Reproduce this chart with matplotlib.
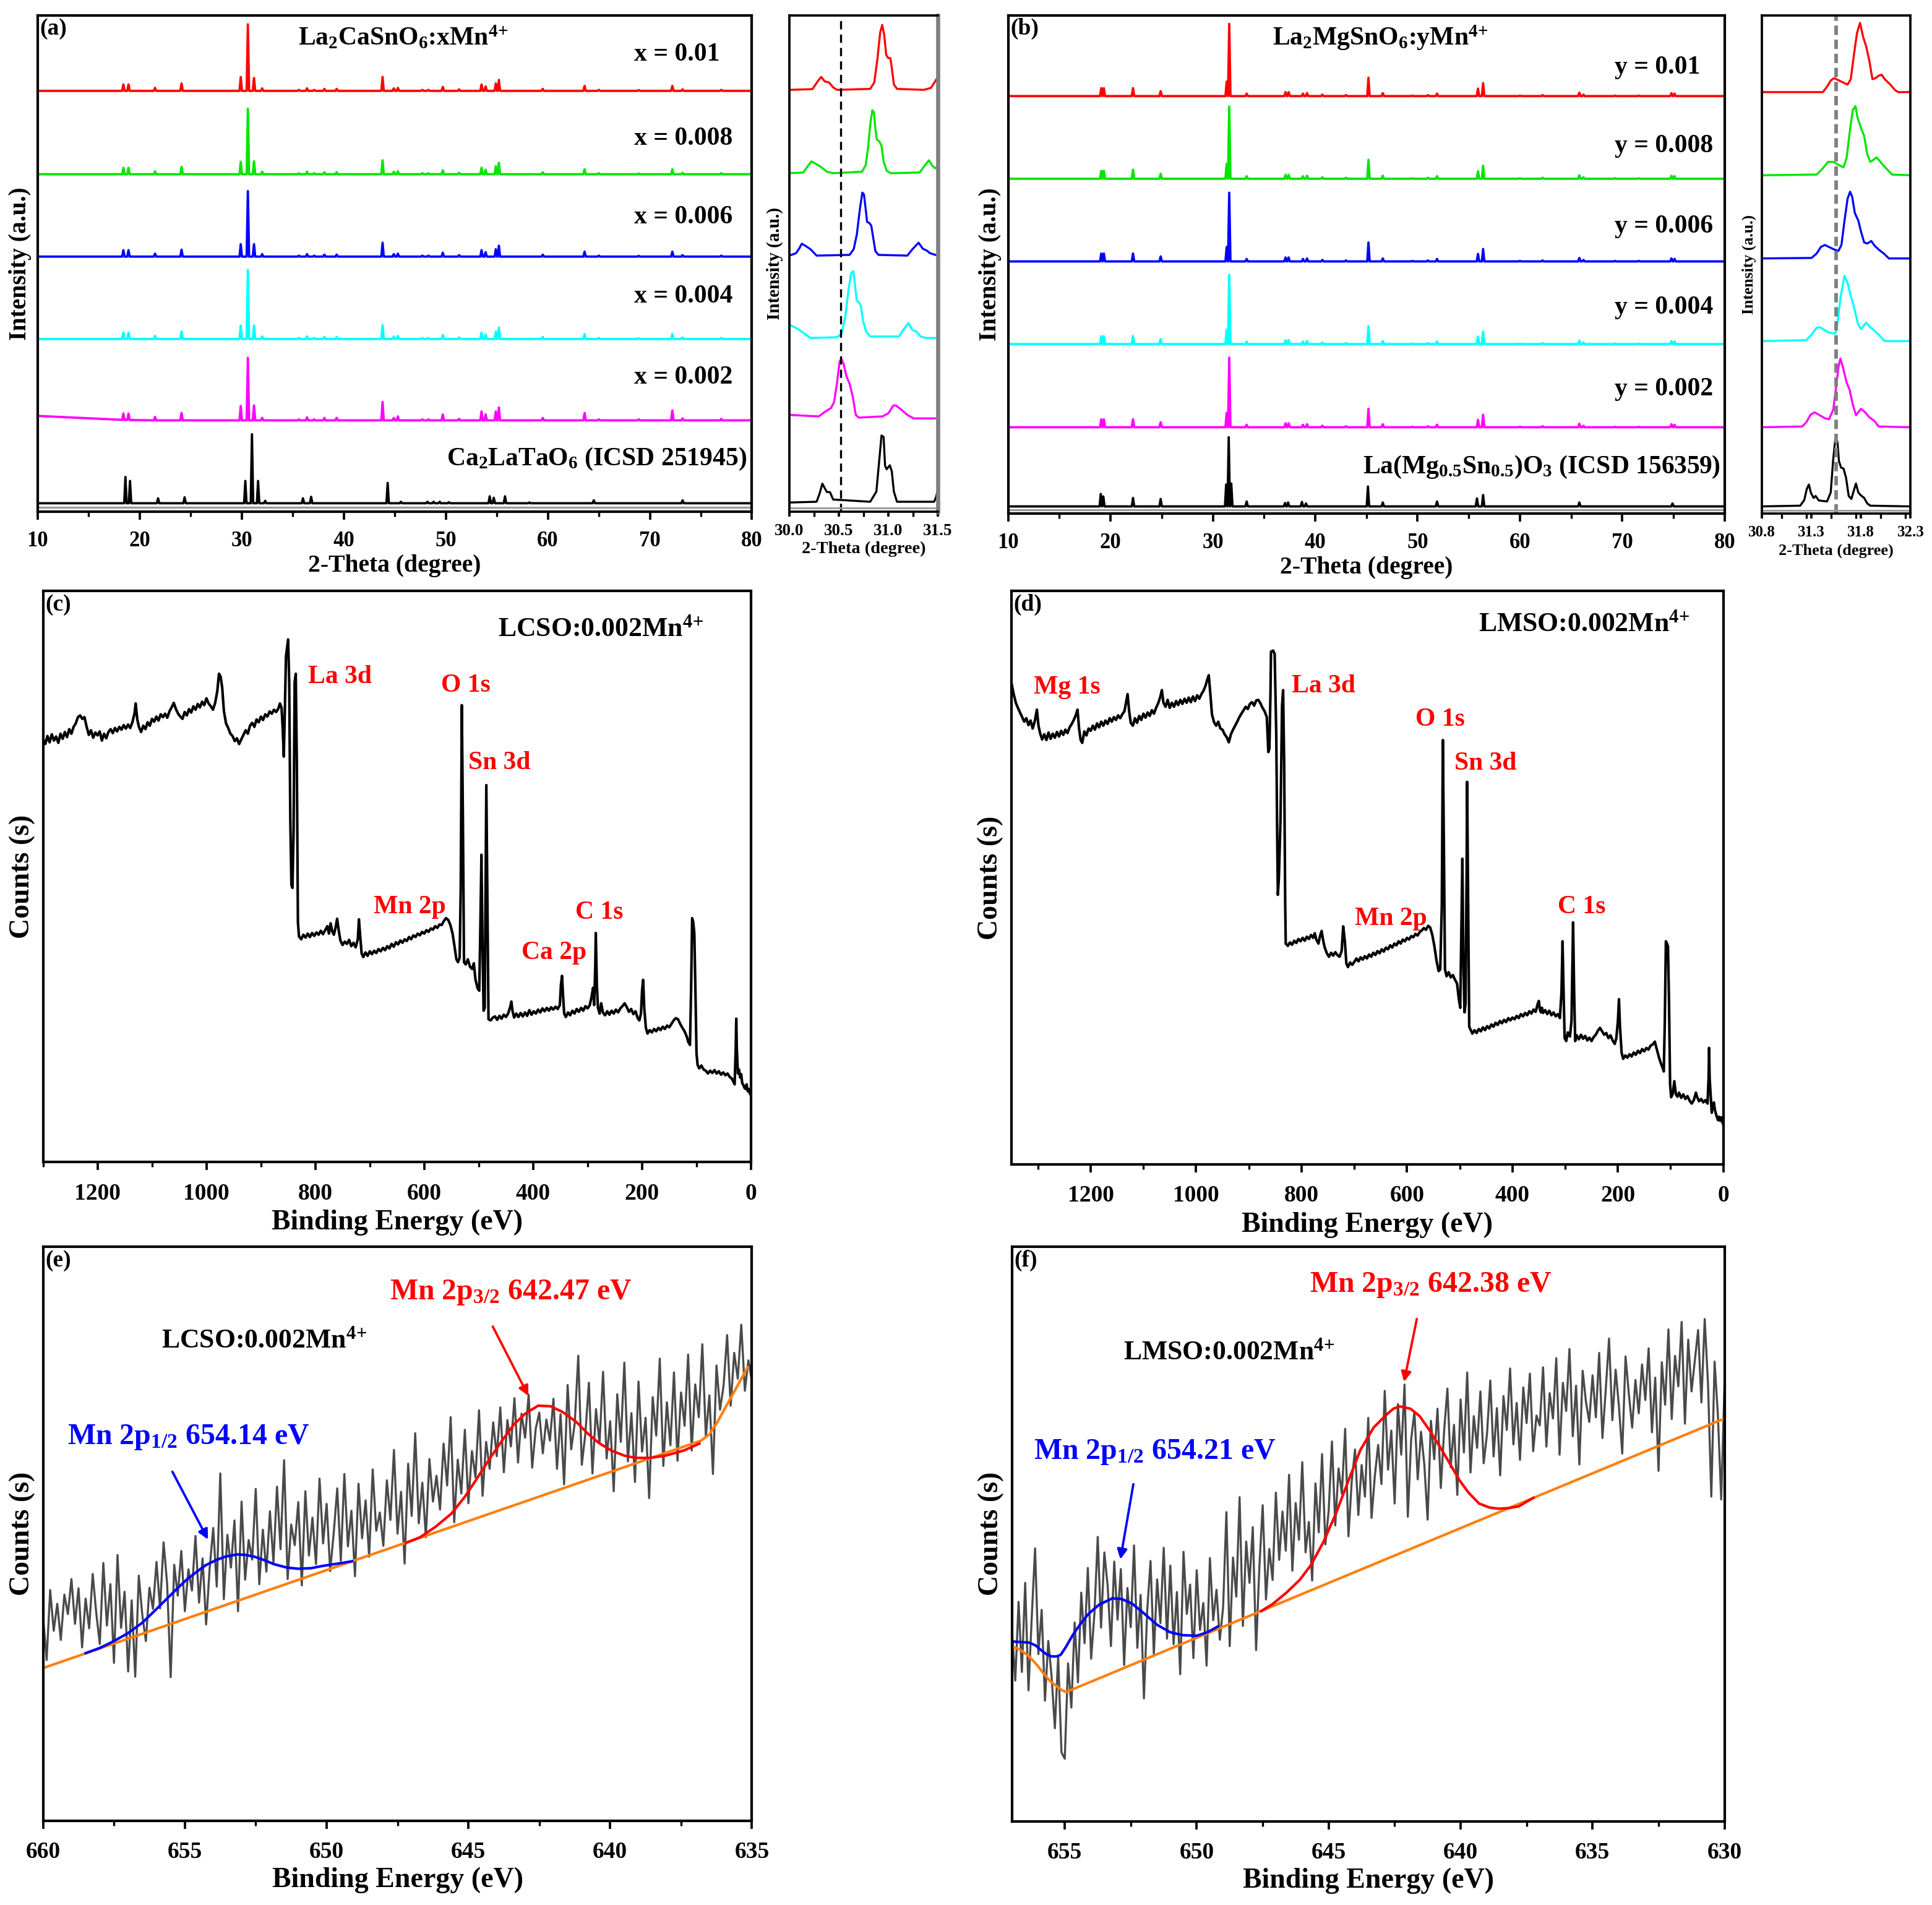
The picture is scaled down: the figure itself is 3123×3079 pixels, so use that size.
import matplotlib
matplotlib.use('Agg')
import matplotlib.pyplot as plt
import numpy as np
from matplotlib.ticker import MultipleLocator

plt.rcParams['font.family'] = ['Liberation Serif', 'DejaVu Serif']
plt.rcParams['font.weight'] = 'bold'
plt.rcParams['axes.labelweight'] = 'bold'
plt.rcParams['mathtext.fontset'] = 'custom'
plt.rcParams['mathtext.rm'] = 'Liberation Serif:bold'
plt.rcParams['mathtext.bf'] = 'Liberation Serif:bold'
plt.rcParams['mathtext.it'] = 'Liberation Serif:bold'
plt.rcParams['mathtext.default'] = 'bf'

colors = ['#ff0000', '#00e600', '#0000ff', '#00ffff', '#ff00ff', '#000000']

# ---------------- XRD (a): La2CaSnO6:xMn ----------------
lcso_pos = [18.4, 18.9, 21.5, 24.1, 29.9, 30.6, 31.2, 32.0, 35.6, 36.4, 37.1, 38.1, 39.3,
            43.8, 44.9, 45.3, 47.7, 48.3, 49.7, 51.3, 53.5, 53.9, 54.9, 55.2, 59.5,
            63.6, 65.0, 68.9, 72.2, 73.2, 77.0]
lcso_x010 = [1.3, 1.3, 0.6, 1.5, 2.8, 13.4, 2.6, 0.5, 0.2, 0.5, 0.2, 0.4, 0.4,
             2.8, 0.5, 0.6, 0.2, 0.2, 0.8, 0.3, 1.3, 0.9, 1.5, 2.2, 0.4,
             1.0, 0.2, 0.15, 1.0, 0.3, 0.2]
lcso_x008 = [1.3, 1.3, 0.6, 1.5, 2.5, 13.2, 2.6, 0.5, 0.2, 0.5, 0.2, 0.4, 0.4,
             2.8, 0.5, 0.6, 0.2, 0.2, 0.8, 0.3, 1.3, 0.9, 1.6, 2.3, 0.4,
             1.0, 0.2, 0.15, 1.0, 0.3, 0.2]
lcso_x006 = [1.3, 1.3, 0.6, 1.4, 2.5, 13.2, 2.5, 0.5, 0.2, 0.5, 0.2, 0.4, 0.4,
             2.8, 0.5, 0.6, 0.2, 0.2, 0.8, 0.3, 1.3, 0.9, 1.5, 2.2, 0.4,
             1.0, 0.2, 0.15, 1.0, 0.3, 0.2]
lcso_x004 = [1.3, 1.3, 0.6, 1.5, 2.7, 13.9, 2.7, 0.5, 0.2, 0.5, 0.2, 0.4, 0.4,
             2.8, 0.5, 0.6, 0.2, 0.2, 0.8, 0.3, 1.3, 0.9, 1.5, 2.3, 0.4,
             1.0, 0.2, 0.15, 1.0, 0.3, 0.2]
lcso_x002 = [1.3, 1.3, 0.7, 1.5, 2.9, 12.6, 3.0, 0.5, 0.2, 0.6, 0.2, 0.5, 0.5,
             3.7, 0.5, 0.8, 0.2, 0.2, 1.2, 0.3, 1.8, 1.2, 1.8, 2.6, 0.5,
             1.5, 0.2, 0.2, 2.0, 0.4, 0.3]
lcso_x002_bg_x = [10, 13, 17, 21]
lcso_x002_bg_y = [0.9, 0.5, 0.15, 0.0]
ref_a_pos = [18.6, 19.05, 21.8, 24.4, 30.35, 31.0, 31.6, 32.3, 36.0, 36.8, 44.3, 45.6,
             48.2, 48.8, 49.4, 50.3, 54.3, 54.7, 55.8, 58.2, 64.5, 73.2]
ref_a_int = [5.3, 4.5, 1.0, 1.2, 4.5, 13.9, 4.5, 0.5, 1.0, 1.3, 4.1, 0.3,
             0.3, 0.3, 0.3, 0.2, 1.4, 1.1, 1.4, 0.15, 0.6, 0.6]
labels_a = ['x = 0.01', 'x = 0.008', 'x = 0.006', 'x = 0.004', 'x = 0.002']

# ---------------- XRD (b): La2MgSnO6:yMn ----------------
lmso_pos = [19.1, 19.35, 22.2, 24.9, 31.35, 31.6, 33.3, 37.1, 37.4, 38.8, 39.2, 40.7,
            43.0, 45.2, 46.6, 49.5, 51.0, 51.9, 55.9, 56.4, 60.0, 62.2, 65.8, 66.2,
            69.3, 71.6, 74.8, 75.1]
lmso_y010 = [1.6, 1.6, 1.6, 1.0, 2.9, 14.5, 0.5, 0.8, 0.8, 0.5, 0.6, 0.3,
             0.2, 3.7, 0.6, 0.1, 0.2, 0.5, 1.5, 2.6, 0.1, 0.2, 0.7, 0.3,
             0.1, 0.1, 0.6, 0.5]
lmso_y008 = [1.6, 1.6, 1.8, 1.0, 3.0, 14.5, 0.5, 0.8, 0.8, 0.5, 0.6, 0.3,
             0.2, 3.8, 0.6, 0.1, 0.2, 0.5, 1.5, 2.6, 0.1, 0.2, 0.7, 0.3,
             0.1, 0.1, 0.6, 0.5]
lmso_y006 = [1.6, 1.6, 1.6, 1.0, 2.9, 13.8, 0.5, 0.8, 0.8, 0.5, 0.6, 0.3,
             0.2, 3.8, 0.6, 0.1, 0.2, 0.5, 1.5, 2.5, 0.1, 0.2, 0.7, 0.3,
             0.1, 0.1, 0.6, 0.5]
lmso_y004 = [1.6, 1.6, 1.6, 1.0, 2.9, 13.9, 0.5, 0.8, 0.8, 0.5, 0.6, 0.3,
             0.2, 3.6, 0.6, 0.1, 0.2, 0.5, 1.5, 2.5, 0.1, 0.2, 0.7, 0.3,
             0.1, 0.1, 0.6, 0.5]
lmso_y002 = [1.6, 1.6, 1.6, 1.0, 2.9, 14.0, 0.5, 0.8, 0.8, 0.5, 0.6, 0.3,
             0.2, 3.7, 0.6, 0.1, 0.2, 0.5, 1.5, 2.5, 0.1, 0.2, 0.7, 0.3,
             0.1, 0.1, 0.6, 0.5]
ref_b_pos = [19.05, 19.3, 22.2, 24.9, 31.3, 31.55, 31.8, 33.3, 37.05, 37.35, 38.7, 39.1,
             45.15, 46.6, 51.9, 55.8, 56.4, 65.8, 74.9]
ref_b_int = [2.5, 2.0, 1.7, 1.5, 4.4, 13.9, 4.6, 1.0, 0.7, 0.8, 0.9, 0.6,
             4.0, 0.8, 1.0, 1.6, 2.3, 0.8, 0.6]
labels_b = ['y = 0.01', 'y = 0.008', 'y = 0.006', 'y = 0.004', 'y = 0.002']

# ---------------- zoomed main peak, inset of (a) ----------------
ia_red_t = [30.0, 30.233, 30.285, 30.321, 30.358, 30.4, 30.442, 30.483, 30.817, 30.858, 30.89, 30.917,
            30.938, 30.958, 30.979, 31.0, 31.021, 31.035, 31.056, 31.088, 31.358, 31.431, 31.473, 31.5]
ia_red_h = [0, 0.15, 1.7, 2.6, 1.7, 1.5, 0.5, 0, 0.2, 1.5, 6.3, 11.5,
            13.1, 11.1, 7.0, 6.4, 6.4, 4.4, 1.1, 0.2, 0, 0.4, 1.7, 2.6]
ia_grn_t = [30.0, 30.14, 30.181, 30.223, 30.275, 30.317, 30.379, 30.442, 30.733, 30.771, 30.796, 30.817,
            30.838, 30.854, 30.869, 30.883, 30.91, 30.931, 30.952, 30.983, 31.025, 31.317, 31.358, 31.41,
            31.442, 31.473, 31.5]
ia_grn_h = [0, 0.15, 1.3, 2.4, 1.8, 1.3, 0.3, 0, 0.3, 1.6, 5.3, 9.8,
            12.7, 12.3, 9.0, 6.8, 6.4, 5.5, 2.4, 0.5, 0, 0.15, 1.3, 2.6,
            1.6, 1.0, 1.3]
ia_blu_t = [30.0, 30.067, 30.098, 30.125, 30.16, 30.2125, 30.275, 30.608, 30.65, 30.681, 30.7125, 30.7375,
            30.754, 30.771, 30.785, 30.806, 30.827, 30.848, 30.869, 30.9, 31.192, 31.244, 31.306, 31.348,
            31.39, 31.42, 31.5]
ia_blu_h = [0, 0.5, 1.4, 2.4, 2.0, 1.3, 0, 0.15, 1.3, 4.2, 9.4, 12.7,
            12.3, 9.4, 6.8, 6.6, 6.1, 3.5, 0.9, 0.15, 0, 1.3, 2.6, 1.4,
            1.0, 0.5, 0]
ia_cya_t = [30.0, 30.0875, 30.2125, 30.483, 30.529, 30.567, 30.598, 30.625, 30.646, 30.66, 30.681, 30.702,
            30.723, 30.744, 30.775, 30.817, 31.108, 31.15, 31.202, 31.244, 31.285, 31.327, 31.379, 31.5]
ia_cya_h = [2.7, 1.8, 0, 0.15, 0.9, 4.6, 9.8, 13.1, 13.5, 11.2, 7.5, 7.2,
            6.4, 3.5, 1.3, 0.3, 0.3, 1.6, 3.0, 1.6, 1.3, 0.3, 0, 0]
ia_mag_t = [30.0, 30.296, 30.358, 30.421, 30.452, 30.483, 30.508, 30.525, 30.546, 30.577, 30.608, 30.64,
            30.671, 30.702, 30.942, 31.004, 31.05, 31.077, 31.129, 31.192, 31.254, 31.5]
ia_mag_h = [0.7, 0.4, 1.3, 2.1, 3.3, 7.4, 11.5, 12.0, 11.1, 8.5, 7.0, 4.4,
            0.7, 0.15, 0.4, 1.1, 2.6, 2.6, 1.8, 0.7, 0, 0]
ia_blk_t = [30.0, 30.275, 30.306, 30.333, 30.354, 30.379, 30.41, 30.442, 30.817, 30.879, 30.91, 30.931,
            30.952, 30.967, 30.983, 31.015, 31.035, 31.056, 31.0875, 31.4625, 31.483, 31.5]
ia_blk_h = [0, 0.15, 1.85, 3.8, 3.0, 2.1, 2.1, 0.6, 0.15, 2.2, 8.9, 13.5,
            13.2, 7.4, 6.7, 7.5, 6.3, 2.2, 0.15, 0.15, 1.1, 2.6]

# ---------------- zoomed main peak, inset of (b) ----------------
ib_red_t = [30.8, 31.417, 31.459, 31.5, 31.531, 31.563, 31.604, 31.666, 31.698, 31.729, 31.76, 31.791,
            31.822, 31.853, 31.885, 31.916, 31.947, 31.978, 32.009, 32.04, 32.092, 32.144, 32.175, 32.3]
ib_red_h = [0, 0, 1.1, 2.4, 2.8, 2.5, 2.1, 1.5, 2.6, 7.4, 11.8, 13.9,
            11.1, 9.2, 6.3, 2.6, 2.8, 3.3, 3.5, 2.6, 1.6, 0.4, 0, 0]
ib_grn_t = [30.8, 31.355, 31.417, 31.469, 31.521, 31.573, 31.625, 31.656, 31.687, 31.718, 31.745, 31.766,
            31.802, 31.833, 31.864, 31.895, 31.926, 31.957, 31.988, 32.02, 32.061, 32.113, 32.3]
ib_grn_h = [0, 0.15, 1.4, 2.7, 2.7, 2.1, 1.6, 3.5, 8.6, 13.1, 13.9, 11.6,
            9.4, 7.9, 4.2, 2.7, 3.1, 3.6, 2.9, 2.1, 1.25, 0.15, 0]
ib_blu_t = [30.8, 31.303, 31.355, 31.396, 31.438, 31.479, 31.531, 31.573, 31.604, 31.635, 31.666, 31.691,
            31.712, 31.739, 31.774, 31.801, 31.833, 31.864, 31.905, 31.936, 31.978, 32.03, 32.082, 32.3]
ib_blu_h = [0, 0.1, 1.0, 2.3, 2.7, 2.3, 1.8, 1.5, 2.7, 7.6, 12.0, 13.4,
            12.4, 9.1, 7.6, 5.4, 3.2, 3.0, 3.5, 2.6, 1.8, 1.0, 0, 0]
ib_cya_t = [30.8, 31.251, 31.303, 31.355, 31.386, 31.427, 31.479, 31.542, 31.563, 31.594, 31.635, 31.666,
            31.698, 31.729, 31.77, 31.801, 31.853, 31.895, 31.937, 31.978, 32.04, 32.3]
ib_cya_h = [0, 0.2, 1.3, 2.7, 2.8, 2.3, 1.7, 1.5, 3.5, 8.7, 13.1, 11.7,
            9.1, 6.9, 3.5, 2.4, 3.7, 2.8, 2.1, 1.3, 0, 0]
ib_mag_t = [30.8, 31.209, 31.251, 31.292, 31.334, 31.386, 31.438, 31.479, 31.521, 31.552, 31.573, 31.594,
            31.625, 31.656, 31.687, 31.718, 31.75, 31.801, 31.843, 31.885, 31.937, 31.978, 32.3]
ib_mag_h = [0, 0.15, 1.0, 2.5, 3.0, 2.4, 1.8, 1.6, 3.5, 8.3, 12.0, 13.8,
            11.6, 9.0, 7.5, 4.6, 2.4, 3.7, 3.0, 2.0, 1.25, 0.15, 0]
ib_blk_t = [30.8, 31.189, 31.23, 31.255, 31.276, 31.297, 31.324, 31.344, 31.376, 31.459, 31.496, 31.521,
            31.542, 31.563, 31.579, 31.6, 31.625, 31.65, 31.677, 31.704, 31.729, 31.75, 31.774, 31.801,
            31.833, 31.864, 31.895, 32.3]
ib_blk_h = [0, 0.15, 1.3, 3.5, 4.4, 2.7, 1.7, 2.1, 1.2, 1.0, 2.8, 9.4,
            13.5, 13.1, 9.1, 7.8, 7.6, 5.8, 2.1, 1.5, 3.2, 4.6, 2.8, 2.2,
            1.7, 0.6, 0.15, 0]

# ---------------- XPS survey (c) LCSO ----------------
survey_c = [
    (1300, 74.0), (1296, 73.2), (1292, 74.6), (1288, 73.5), (1284, 74.9), (1280, 73.8), (1276, 74.5),
    (1272, 73.4), (1268, 75.0), (1264, 74.1), (1260, 75.3), (1256, 74.4), (1252, 75.8), (1248, 75.0),
    (1244, 76.2), (1240, 76.8), (1236, 77.9), (1232, 78.2), (1228, 77.6), (1224, 77.9), (1220, 76.2),
    (1216, 74.8), (1212, 75.6), (1208, 74.3), (1204, 75.2), (1200, 74.7), (1196, 75.4), (1192, 73.8),
    (1188, 75.0), (1184, 74.2), (1180, 75.3), (1176, 75.8), (1172, 75.1), (1168, 76.0), (1164, 75.4),
    (1160, 76.2), (1156, 75.7), (1152, 76.5), (1148, 75.9), (1144, 76.6), (1140, 76.0), (1136, 77.0),
    (1132, 78.6), (1130, 80.3), (1127, 77.5), (1124, 76.2), (1120, 75.3), (1116, 76.4), (1112, 75.8),
    (1108, 77.0), (1104, 76.4), (1100, 77.6), (1096, 77.1), (1092, 78.0), (1088, 77.3), (1084, 78.4),
    (1080, 77.9), (1076, 78.5), (1072, 77.8), (1068, 78.9), (1064, 79.6), (1060, 80.4), (1056, 79.3),
    (1052, 78.5), (1048, 78.0), (1044, 77.6), (1040, 78.8), (1036, 78.2), (1032, 79.3), (1028, 78.7),
    (1024, 79.8), (1020, 79.2), (1016, 80.2), (1012, 79.6), (1008, 80.6), (1004, 80.0), (1000, 81.2),
    (996, 80.3), (992, 79.8), (988, 79.2), (984, 80.4), (980, 82.5), (977, 85.5), (974, 85.0),
    (971, 83.0), (968, 79.0), (964, 76.8), (960, 76.0), (956, 75.0), (952, 74.6), (948, 73.7),
    (944, 74.2), (940, 73.2), (936, 74.0), (932, 74.8), (928, 75.6), (924, 75.0), (920, 76.4),
    (916, 76.9), (912, 76.2), (908, 77.5), (904, 77.0), (900, 78.0), (896, 77.4), (892, 78.4),
    (888, 78.0), (884, 78.9), (880, 78.5), (876, 79.2), (872, 78.8), (868, 79.4), (865, 80.3),
    (862, 79.5), (860, 76.0), (858, 71.0), (856, 79.0), (854, 88.5), (852, 90.0), (850, 91.5),
    (848, 84.0), (846, 60.0), (844, 48.5), (842, 48.0), (840, 58.0), (838, 84.0), (836, 85.5),
    (834, 70.0), (832, 42.0), (830, 39.5), (826, 39.0), (822, 39.8), (818, 39.3), (814, 40.0),
    (810, 39.4), (806, 40.1), (802, 39.6), (798, 40.2), (794, 39.8), (790, 40.5), (786, 39.9),
    (782, 40.6), (778, 41.3), (775, 40.0), (772, 41.8), (769, 40.4), (766, 39.8), (763, 41.0),
    (760, 42.6), (757, 40.5), (754, 38.8), (750, 38.0), (746, 38.6), (742, 38.2), (738, 38.9),
    (734, 37.8), (730, 38.4), (726, 37.6), (722, 39.0), (720, 42.5), (718, 40.0), (715, 36.5),
    (712, 35.9), (708, 36.7), (704, 36.1), (700, 36.9), (696, 36.4), (692, 37.0), (688, 36.6),
    (684, 37.3), (680, 36.9), (676, 37.5), (672, 37.1), (668, 37.8), (664, 37.4), (660, 38.2),
    (656, 37.7), (652, 38.5), (648, 38.1), (644, 38.8), (640, 38.4), (636, 39.0), (632, 38.7),
    (628, 39.4), (624, 39.0), (620, 39.7), (616, 39.4), (612, 40.0), (608, 39.7), (604, 40.3),
    (600, 40.0), (596, 40.6), (592, 40.3), (588, 40.9), (584, 40.7), (580, 41.3), (576, 41.0),
    (572, 41.6), (568, 41.5), (564, 42.2), (560, 42.7), (556, 42.4), (552, 41.5), (548, 40.0),
    (544, 37.5), (541, 35.5), (538, 35.0), (535, 35.8), (533, 48.0), (531, 80.0), (529, 60.0),
    (527, 35.0), (524, 34.6), (520, 35.5), (516, 34.2), (512, 33.8), (509, 34.8), (506, 32.0),
    (502, 30.4), (499, 30.0), (497, 41.0), (495, 53.8), (493, 38.0), (491, 26.5), (489, 27.0),
    (487, 52.0), (486, 66.0), (484, 45.0), (482, 25.0), (478, 24.8), (474, 25.3), (470, 25.5),
    (466, 24.9), (462, 25.6), (458, 25.1), (454, 25.8), (450, 25.4), (446, 26.0), (442, 27.2),
    (440, 28.1), (438, 26.5), (435, 25.3), (431, 26.0), (427, 25.4), (423, 26.1), (419, 25.5),
    (415, 26.2), (411, 25.6), (407, 26.6), (403, 25.8), (399, 26.4), (395, 26.0), (391, 26.7),
    (387, 26.2), (383, 26.9), (379, 26.4), (375, 27.0), (371, 26.5), (367, 27.1), (363, 26.7),
    (359, 27.2), (355, 26.8), (351, 27.5), (349, 31.0), (347, 32.6), (345, 29.0), (343, 26.0),
    (340, 25.4), (336, 26.2), (332, 25.7), (328, 26.5), (324, 26.0), (320, 26.8), (316, 26.3),
    (312, 27.0), (308, 26.5), (304, 27.3), (300, 26.9), (296, 27.5), (293, 28.8), (290, 30.5),
    (288, 27.5), (286, 34.0), (285, 40.1), (283, 31.0), (281, 27.0), (278, 26.0), (275, 27.8),
    (272, 26.2), (268, 25.7), (264, 26.4), (260, 25.8), (256, 26.5), (252, 26.0), (248, 26.7),
    (244, 26.2), (240, 26.9), (236, 27.3), (232, 27.8), (228, 27.1), (224, 26.3), (220, 26.8),
    (216, 25.9), (212, 26.4), (208, 25.2), (205, 24.8), (202, 26.0), (200, 30.0), (198, 31.9),
    (196, 27.0), (193, 23.5), (190, 22.5), (186, 23.1), (182, 22.7), (178, 23.3), (174, 22.9),
    (170, 23.5), (166, 23.1), (162, 23.7), (158, 23.3), (154, 23.9), (150, 23.6), (146, 24.2),
    (142, 24.8), (138, 25.2), (134, 25.0), (130, 24.2), (126, 23.5), (122, 22.9), (118, 22.0),
    (115, 21.0), (112, 20.5), (110, 30.0), (108, 42.7), (106, 42.0), (104, 40.0), (102, 30.0),
    (100, 19.0), (98, 17.0), (95, 16.4), (91, 16.9), (87, 16.2), (83, 16.0), (79, 15.5),
    (75, 16.0), (71, 15.6), (67, 16.1), (63, 15.5), (59, 15.9), (55, 15.3), (51, 15.7),
    (47, 15.2), (43, 15.5), (39, 14.9), (35, 14.6), (32, 14.0), (30, 13.6), (28, 20.0),
    (27, 25.1), (26, 20.0), (24, 15.5), (22, 16.2), (20, 14.8), (18, 15.4), (16, 13.8),
    (14, 13.5), (12, 13.0), (10, 12.8), (8, 13.6), (6, 12.4), (4, 12.8), (2, 12.0), (0, 11.7)]

# ---------------- XPS survey (d) LMSO ----------------
survey_d = [
    (1350, 83.8), (1346, 82.0), (1342, 80.5), (1338, 79.6), (1334, 78.8), (1330, 78.0), (1326, 77.2),
    (1322, 77.8), (1318, 76.6), (1314, 77.4), (1310, 76.0), (1306, 77.3), (1302, 79.3), (1299, 76.5),
    (1296, 75.2), (1292, 74.1), (1288, 75.0), (1284, 74.0), (1280, 75.3), (1276, 74.2), (1272, 75.1),
    (1268, 74.4), (1264, 75.4), (1260, 74.6), (1256, 75.6), (1252, 74.9), (1248, 75.8), (1244, 75.2),
    (1240, 76.2), (1236, 76.8), (1232, 77.5), (1228, 78.4), (1225, 79.3), (1222, 76.0), (1219, 74.0),
    (1216, 73.5), (1212, 75.5), (1208, 74.8), (1204, 76.0), (1200, 75.6), (1196, 76.5), (1192, 75.8),
    (1188, 76.9), (1184, 76.2), (1180, 77.2), (1176, 76.5), (1172, 77.4), (1168, 76.8), (1164, 77.8),
    (1160, 77.2), (1156, 78.0), (1152, 77.5), (1148, 78.3), (1144, 77.8), (1140, 78.5), (1136, 79.0),
    (1133, 80.5), (1130, 82.0), (1127, 79.0), (1124, 77.0), (1120, 76.5), (1116, 77.8), (1112, 77.0),
    (1108, 78.2), (1104, 77.5), (1100, 78.6), (1096, 77.9), (1092, 78.8), (1088, 78.2), (1084, 79.2),
    (1080, 78.6), (1076, 79.6), (1072, 80.4), (1068, 81.5), (1065, 82.7), (1062, 80.5), (1058, 79.8),
    (1054, 81.0), (1050, 79.6), (1046, 80.5), (1042, 79.8), (1038, 80.8), (1034, 80.1), (1030, 81.0),
    (1026, 80.3), (1022, 81.2), (1018, 80.5), (1014, 81.4), (1010, 80.6), (1006, 81.6), (1002, 80.8),
    (998, 81.8), (994, 81.2), (990, 82.0), (986, 82.6), (982, 83.5), (979, 84.5), (976, 85.3),
    (973, 82.0), (970, 78.5), (966, 77.1), (962, 76.5), (958, 77.2), (954, 76.0), (950, 75.8),
    (946, 75.0), (942, 74.5), (938, 73.6), (934, 75.0), (930, 75.8), (926, 76.5), (922, 77.2),
    (918, 78.0), (914, 78.6), (910, 79.2), (906, 79.8), (902, 79.4), (898, 80.3), (894, 80.6),
    (890, 80.0), (886, 80.9), (882, 81.0), (878, 80.4), (874, 79.6), (870, 79.0), (866, 78.0),
    (863, 71.9), (861, 72.5), (859, 82.0), (858, 89.4), (854, 89.6), (851, 89.0), (848, 75.0),
    (846, 55.0), (845, 47.0), (843, 50.0), (840, 60.0), (837, 80.0), (835, 82.7), (833, 70.0),
    (831, 45.0), (830, 38.5), (826, 38.1), (822, 38.7), (818, 38.3), (814, 39.0), (810, 38.6),
    (806, 39.3), (802, 38.9), (798, 39.5), (794, 39.0), (790, 39.7), (786, 39.3), (782, 40.0),
    (778, 39.5), (775, 40.3), (772, 39.2), (768, 38.5), (765, 39.8), (762, 40.7), (759, 39.0),
    (756, 37.8), (752, 36.8), (748, 36.2), (744, 36.9), (740, 36.4), (736, 37.0), (732, 36.5),
    (728, 36.2), (724, 37.2), (721, 41.5), (718, 39.0), (715, 35.0), (712, 34.4), (708, 35.2),
    (704, 34.8), (700, 35.3), (696, 35.9), (692, 35.4), (688, 36.1), (684, 35.7), (680, 36.3),
    (676, 35.9), (672, 36.6), (668, 36.2), (664, 36.9), (660, 36.5), (656, 37.2), (652, 36.8),
    (648, 37.5), (644, 37.1), (640, 37.8), (636, 37.5), (632, 38.2), (628, 37.8), (624, 38.5),
    (620, 38.2), (616, 38.9), (612, 38.5), (608, 39.2), (604, 38.9), (600, 39.5), (596, 39.2),
    (592, 39.8), (588, 39.6), (584, 40.2), (580, 39.9), (576, 40.5), (572, 40.8), (568, 41.2),
    (564, 40.9), (560, 41.6), (556, 41.3), (552, 40.0), (548, 38.0), (544, 35.5), (540, 33.7),
    (537, 34.0), (534, 45.0), (532, 74.0), (530, 55.0), (528, 34.0), (525, 32.8), (521, 33.5),
    (517, 32.6), (513, 33.0), (509, 32.2), (505, 31.5), (502, 29.0), (499, 27.3), (497, 40.0),
    (495, 53.3), (493, 35.0), (491, 26.5), (489, 28.0), (487, 50.0), (486, 66.7), (484, 45.0),
    (482, 24.0), (480, 23.6), (476, 22.8), (472, 23.4), (468, 22.9), (464, 23.6), (460, 23.2),
    (456, 23.9), (452, 23.4), (448, 24.1), (444, 23.7), (440, 24.4), (436, 24.0), (432, 24.7),
    (428, 24.3), (424, 25.0), (420, 24.6), (416, 25.2), (412, 24.8), (408, 25.5), (404, 25.1),
    (400, 25.6), (396, 25.3), (392, 25.9), (388, 25.5), (384, 26.2), (380, 25.8), (376, 26.4),
    (372, 26.0), (368, 26.7), (364, 26.3), (360, 27.0), (356, 26.6), (352, 28.0), (350, 28.5),
    (348, 27.0), (346, 26.5), (344, 27.3), (342, 26.4), (338, 26.9), (334, 26.2), (330, 26.8),
    (326, 26.0), (322, 26.5), (318, 25.8), (314, 26.2), (310, 25.5), (307, 30.0), (305, 38.9),
    (303, 30.0), (301, 22.0), (298, 21.5), (295, 23.0), (291, 22.3), (288, 25.0), (285, 42.2),
    (283, 30.0), (281, 21.5), (278, 22.5), (274, 21.8), (270, 22.6), (266, 21.9), (262, 22.4),
    (258, 21.6), (254, 22.1), (250, 21.5), (246, 22.2), (242, 22.6), (238, 23.3), (234, 23.8),
    (230, 23.2), (226, 22.6), (222, 22.9), (218, 22.0), (214, 22.5), (210, 21.6), (206, 21.0),
    (203, 22.0), (200, 25.0), (198, 28.8), (196, 24.0), (193, 19.5), (190, 18.4), (186, 19.0),
    (182, 18.6), (178, 19.2), (174, 18.8), (170, 19.5), (166, 19.1), (162, 19.8), (158, 19.4),
    (154, 20.1), (150, 19.7), (146, 20.3), (142, 20.0), (138, 20.7), (134, 20.9), (130, 21.4),
    (126, 20.0), (122, 18.6), (118, 17.5), (115, 16.8), (113, 16.2), (111, 25.0), (109, 38.9),
    (107, 38.5), (105, 38.0), (103, 28.0), (101, 14.0), (99, 11.7), (96, 12.3), (93, 14.5),
    (90, 12.2), (87, 11.8), (84, 12.5), (80, 11.6), (76, 12.2), (72, 11.4), (68, 11.9),
    (64, 11.1), (60, 10.6), (56, 11.2), (52, 12.5), (50, 11.8), (46, 11.0), (42, 11.4),
    (38, 10.8), (34, 11.2), (30, 10.6), (28, 15.0), (27, 20.3), (26, 15.0), (24, 12.0),
    (22, 9.0), (20, 10.2), (18, 10.8), (16, 9.5), (14, 8.8), (12, 8.2), (10, 7.7),
    (8, 8.3), (6, 7.6), (4, 8.2), (2, 7.4), (0, 6.9)]

# ---------------- Mn 2p (e) LCSO, raw counts 660 -> 635 eV ----------------
mn2p_e = [
    35.5, 28.0, 40.2, 33.1, 37.8, 31.5, 39.4, 36.0, 42.1, 34.3, 40.5, 30.2, 38.7, 33.5, 43.0, 36.2,
    30.8, 44.9, 34.0, 41.2, 27.5, 46.3, 33.6, 39.9, 26.0, 38.4, 25.1, 42.7, 35.8, 31.3, 40.6, 36.9,
    45.1, 37.0, 48.5, 41.3, 25.0, 44.6, 39.2, 47.0, 36.5, 43.8, 40.1, 49.6, 38.0, 45.7, 34.2, 44.0,
    51.0, 40.8, 60.5, 38.6, 49.8, 44.1, 52.3, 36.5, 55.6, 42.0, 48.9, 45.5, 57.8, 41.2, 50.7, 43.4,
    53.9, 45.0, 58.2, 47.3, 62.8, 42.1, 51.6, 48.0, 55.5, 41.0, 57.4, 46.2, 52.8, 44.7, 59.6, 48.3,
    55.2, 43.5, 50.1, 57.9, 45.3, 60.4, 47.8, 54.0, 42.6, 58.7, 49.2, 55.8, 46.0, 61.2, 50.5, 53.7,
    47.9, 59.3, 52.4, 64.6, 50.0, 57.3, 44.8, 62.2, 53.1, 67.5, 51.8, 58.9, 49.4, 63.0, 55.6, 60.1,
    54.2, 65.7, 58.4, 70.3, 52.0, 62.9, 57.0, 68.1, 55.3, 64.4, 59.8, 71.5, 56.6, 66.0, 61.3, 69.4,
    63.5, 72.0, 60.7, 69.8, 65.2, 73.6, 62.4, 70.9, 66.7, 74.2, 61.5, 68.3, 71.1, 64.0, 69.9, 66.2,
    73.5, 61.3, 70.8, 58.6, 75.9, 64.7, 69.2, 81.0, 62.0, 67.4, 76.3, 60.5, 71.7, 65.8, 78.2, 63.1,
    69.6, 57.4, 74.3, 66.0, 79.8, 62.6, 71.0, 59.0, 76.5, 64.3, 70.2, 56.2, 73.8, 67.1, 80.5, 61.8,
    72.9, 65.4, 78.1, 62.7, 74.6, 68.8, 81.2, 64.5, 76.0, 70.3, 83.0, 66.9, 74.1, 60.4, 79.3, 71.6,
    75.8, 84.6, 72.3, 81.5, 77.0, 86.4, 74.9, 80.2, 76.5]
bg_e_be = [660.0, 636.8, 636.5, 636.2, 635.15]
bg_e_y = [26.6, 66.2, 67.3, 69.6, 79.0]
p12_e_be = [658.5, 658.0, 657.5, 657.0, 656.5, 656.1, 655.65, 655.3, 654.96, 654.6, 654.27, 653.9,
            653.58, 653.15, 652.85, 652.55, 652.2, 651.86, 651.4, 651.0, 650.55, 650.13, 649.6, 649.1]
p12_e_y = [29.2, 30.1, 31.3, 32.7, 34.5, 36.4, 38.6, 40.3, 41.9, 43.3, 44.5, 45.4,
           46.0, 46.4, 46.3, 46.0, 45.4, 44.7, 44.1, 43.9, 44.0, 44.4, 44.8, 45.2]
p32_e_be = [647.2, 646.7, 646.16, 645.6, 645.13, 644.7, 644.26, 643.8, 643.4, 643.0, 642.54, 642.1,
            641.68, 641.2, 640.8, 640.4, 639.96, 639.5, 639.1, 638.6, 638.05, 637.4, 636.85]
p32_e_y = [48.4, 49.4, 51.2, 53.5, 56.4, 59.6, 63.0, 66.3, 69.0, 70.9, 72.3, 72.2,
           71.2, 69.5, 67.5, 65.8, 64.5, 63.6, 63.2, 63.2, 63.6, 64.5, 65.7]

# ---------------- Mn 2p (f) LMSO, raw counts 657 -> 630 eV ----------------
mn2p_f = [
    33.0, 24.5, 38.2, 26.0, 41.5, 22.8, 35.6, 47.5, 29.1, 36.8, 21.0, 31.4, 25.3, 16.2, 28.7, 12.0,
    10.9, 27.5, 19.8, 34.6, 24.2, 39.8, 31.0, 44.1, 28.3, 36.2, 49.5, 33.7, 46.8, 41.0, 30.5, 45.2,
    35.1, 43.9, 27.2, 40.6, 33.8, 48.0, 30.2, 39.4, 21.4, 36.7, 45.3, 29.0, 42.1, 34.5, 47.6, 31.8,
    44.5, 30.8, 39.9, 25.6, 46.9, 36.1, 41.2, 28.4, 43.7, 33.3, 38.0, 27.1, 45.8, 35.0, 40.3, 31.6,
    37.2, 53.8, 30.5, 45.9, 39.1, 56.4, 34.0, 48.7, 41.5, 51.2, 29.8, 44.3, 55.0, 38.6, 47.4, 42.0,
    57.2, 45.5, 53.9, 47.1, 60.3, 43.6, 55.4, 49.0, 62.5, 46.8, 52.1, 41.9, 58.8, 50.3, 63.9, 48.2,
    54.0, 66.1, 51.5, 61.4, 57.0, 68.3, 49.6, 59.2, 64.7, 53.3, 62.0, 56.5, 70.2, 52.8, 60.1, 65.5,
    58.7, 74.9, 61.2, 68.0, 55.3, 72.6, 63.8, 76.0, 53.0, 66.4, 71.3, 59.5, 67.8, 62.1, 52.5, 69.7,
    63.0, 71.8, 58.0, 67.9, 75.3, 61.6, 69.0, 56.8, 73.4, 64.2, 78.1, 60.7, 70.5, 65.0, 74.8, 62.3,
    67.4, 76.7, 63.5, 71.9, 60.2, 74.0, 68.1, 78.8, 65.6, 72.8, 62.9, 75.5, 69.3, 77.9, 64.4, 70.6,
    68.9, 79.0, 65.2, 74.5, 70.1, 80.6, 63.8, 76.3, 71.4, 82.2, 67.0, 75.8, 62.1, 78.4, 73.0, 69.5,
    77.6, 70.3, 81.5, 66.7, 75.1, 84.0, 69.8, 78.6, 72.2, 64.0, 80.9, 74.4, 68.5, 76.8, 71.0, 79.5,
    73.3, 82.3, 67.7, 77.2, 61.0, 79.9, 72.5, 85.6, 70.0, 81.0, 75.7, 86.9, 69.2, 83.8, 74.8, 80.2,
    85.5, 72.9, 87.4, 76.1, 56.5, 80.0, 70.6, 56.0, 76.0]
bg_f_be = [657.0, 656.7, 656.35, 656.05, 655.8, 655.55, 655.3, 655.1, 654.95, 630.0]
bg_f_y = [30.4, 29.9, 28.7, 27.2, 25.7, 24.4, 23.5, 22.8, 22.5, 70.1]
p12_f_be = [657.0, 656.35, 656.1, 655.9, 655.7, 655.5, 655.3, 655.15, 654.95, 654.7, 654.4, 654.1,
            653.7, 653.2, 652.85, 652.45, 652.0, 651.5, 651.0, 650.54, 650.0, 649.6, 649.2]
p12_f_y = [31.3, 31.1, 30.6, 29.8, 29.1, 28.7, 28.7, 29.0, 30.4, 32.4, 34.4, 36.1,
           37.7, 38.8, 38.7, 37.9, 36.2, 34.2, 32.9, 32.4, 32.3, 32.9, 33.9]
p32_f_be = [647.55, 647.1, 646.6, 646.1, 645.67, 645.2, 644.73, 644.25, 643.8, 643.3, 642.87, 642.55,
            642.3, 641.9, 641.55, 641.2, 640.8, 640.4, 640.05, 639.7, 639.3, 638.9, 638.55, 638.2,
            637.8, 637.24]
p32_f_y = [36.6, 37.9, 39.8, 42.0, 44.6, 48.6, 53.5, 59.3, 64.6, 68.5, 70.5, 71.8,
           72.2, 71.8, 70.5, 68.2, 65.3, 62.2, 59.4, 57.2, 55.3, 54.6, 54.4, 54.5,
           54.8, 56.3]


def stick_pattern(pos, hgt, lo, hi, hw=0.12, bg_x=None, bg_y=None):
    xs, ys = [lo], [0.0]
    for p, h in sorted(zip(pos, hgt)):
        xs += [p - hw, p, p + hw]
        ys += [0.0, h, 0.0]
    xs.append(hi)
    ys.append(0.0)
    xs = np.array(xs)
    ys = np.array(ys)
    if bg_x is not None:
        ys = ys + np.interp(xs, bg_x, bg_y)
    return xs, ys


def frame(ax, lw=1.0, size=8, pad=4.5):
    for s in ax.spines.values():
        s.set_linewidth(lw)
    ax.set_yticks([])
    ax.tick_params(axis='x', which='major', direction='out', length=3, width=0.9, labelsize=size, pad=pad)
    ax.tick_params(axis='x', which='minor', direction='out', length=1.8, width=0.8)


fig = plt.figure(figsize=(3123 / 300, 3079 / 300), dpi=300)

# ===== (a) =====
ax_a = fig.add_axes([0.0195, 0.7314, 0.3697, 0.2605])
offs_a = [84.8, 68.0, 51.4, 34.8, 18.4, 1.7]
sets_a = [lcso_x010, lcso_x008, lcso_x006, lcso_x004, lcso_x002]
for i, h in enumerate(sets_a):
    if i == 4:
        xs, ys = stick_pattern(lcso_pos, h, 10, 80, bg_x=lcso_x002_bg_x, bg_y=lcso_x002_bg_y)
    else:
        xs, ys = stick_pattern(lcso_pos, h, 10, 80)
    ax_a.plot(xs, ys + offs_a[i], color=colors[i], lw=0.9)
xs, ys = stick_pattern(ref_a_pos, ref_a_int, 10, 80)
ax_a.plot(xs, ys + offs_a[5], color='black', lw=0.9)
ax_a.axhline(0.85, color='#9a9a9a', lw=0.8)
ax_a.set_xlim(10, 80)
ax_a.set_ylim(0, 100)
ax_a.xaxis.set_major_locator(MultipleLocator(10))
ax_a.xaxis.set_minor_locator(MultipleLocator(5))
frame(ax_a, size=8.3)
ax_a.set_xlabel('2-Theta (degree)', fontsize=9.5)
ax_a.xaxis.set_label_coords(0.5, -0.086)
ax_a.set_ylabel('Intensity (a.u.)', fontsize=9.5)
ax_a.yaxis.set_label_coords(-0.009, 0.5)
ax_a.text(0.003, 0.995, '(a)', transform=ax_a.transAxes, ha='left', va='top', fontsize=9)
ax_a.text(0.512, 0.955, r'La$_{2}$CaSnO$_{6}$:xMn$^{4\!+}$', transform=ax_a.transAxes,
          ha='center', va='center', fontsize=10)
for lab, yy in zip(labels_a, [0.921, 0.752, 0.593, 0.434, 0.270]):
    ax_a.text(0.835, yy, lab, transform=ax_a.transAxes, ha='left', va='center', fontsize=10)
ax_a.text(0.993, 0.106, r'Ca$_{2}$LaTaO$_{6}$ (ICSD 251945)', transform=ax_a.transAxes,
          ha='right', va='center', fontsize=10)

# ===== (a) inset =====
ax_ai = fig.add_axes([0.4086, 0.7314, 0.0768, 0.2605])
offs_ai = [85.0, 68.2, 51.6, 35.0, 18.8, 1.85]
ia_t = [ia_red_t, ia_grn_t, ia_blu_t, ia_cya_t, ia_mag_t, ia_blk_t]
ia_h = [ia_red_h, ia_grn_h, ia_blu_h, ia_cya_h, ia_mag_h, ia_blk_h]
for i in range(6):
    ax_ai.plot(ia_t[i], np.array(ia_h[i]) + offs_ai[i], color=colors[i], lw=0.8)
ax_ai.axvline(30.52, color='black', lw=0.8, ls=(0, (4, 2.5)))
ax_ai.axhline(0.8, color='#9a9a9a', lw=0.7)
ax_ai.set_xlim(30.0, 31.5)
ax_ai.set_ylim(0, 100)
ax_ai.set_xticks([30.0, 30.5, 31.0, 31.5])
ax_ai.set_xticklabels(['30.0', '30.5', '31.0', '31.5'])
ax_ai.xaxis.set_minor_locator(MultipleLocator(0.25))
frame(ax_ai, lw=0.9, size=6.5, pad=2.5)
ax_ai.tick_params(axis='x', which='major', length=2)
ax_ai.spines['right'].set_color('#808080')
ax_ai.spines['right'].set_linewidth(1.6)
ax_ai.set_xlabel('2-Theta (degree)', fontsize=6.8)
ax_ai.xaxis.set_label_coords(0.5, -0.06)
ax_ai.set_ylabel('Intensity (a.u.)', fontsize=7)
ax_ai.yaxis.set_label_coords(-0.04, 0.5)

# ===== (b) =====
ax_b = fig.add_axes([0.5218, 0.7305, 0.3709, 0.2614])
offs_b = [83.8, 67.2, 50.6, 34.0, 17.3, 1.4]
sets_b = [lmso_y010, lmso_y008, lmso_y006, lmso_y004, lmso_y002]
for i, h in enumerate(sets_b):
    xs, ys = stick_pattern(lmso_pos, h, 10, 80)
    ax_b.plot(xs, ys + offs_b[i], color=colors[i], lw=0.9)
xs, ys = stick_pattern(ref_b_pos, ref_b_int, 10, 80)
ax_b.plot(xs, ys + offs_b[5], color='black', lw=0.9)
ax_b.axhline(0.7, color='#9a9a9a', lw=0.8)
ax_b.set_xlim(10, 80)
ax_b.set_ylim(0, 100)
ax_b.xaxis.set_major_locator(MultipleLocator(10))
ax_b.xaxis.set_minor_locator(MultipleLocator(5))
frame(ax_b, size=8.3)
ax_b.set_xlabel('2-Theta (degree)', fontsize=9.5)
ax_b.xaxis.set_label_coords(0.5, -0.086)
ax_b.set_ylabel('Intensity (a.u.)', fontsize=9.5)
ax_b.yaxis.set_label_coords(-0.009, 0.5)
ax_b.text(0.003, 0.995, '(b)', transform=ax_b.transAxes, ha='left', va='top', fontsize=9)
ax_b.text(0.52, 0.955, r'La$_{2}$MgSnO$_{6}$:yMn$^{4\!+}$', transform=ax_b.transAxes,
          ha='center', va='center', fontsize=10)
for lab, yy in zip(labels_b, [0.896, 0.738, 0.576, 0.414, 0.249]):
    ax_b.text(0.846, yy, lab, transform=ax_b.transAxes, ha='left', va='center', fontsize=10)
ax_b.text(0.994, 0.0925, r'La(Mg$_{0.5}$Sn$_{0.5}$)O$_{3}$ (ICSD 156359)', transform=ax_b.transAxes,
          ha='right', va='center', fontsize=10)

# ===== (b) inset =====
ax_bi = fig.add_axes([0.9118, 0.7305, 0.0771, 0.2614])
offs_bi = [84.6, 67.9, 51.2, 34.6, 17.3, 1.4]
ib_t = [ib_red_t, ib_grn_t, ib_blu_t, ib_cya_t, ib_mag_t, ib_blk_t]
ib_h = [ib_red_h, ib_grn_h, ib_blu_h, ib_cya_h, ib_mag_h, ib_blk_h]
for i in range(6):
    ax_bi.plot(ib_t[i], np.array(ib_h[i]) + offs_bi[i], color=colors[i], lw=0.8)
ax_bi.axvline(31.552, color='#7f7f7f', lw=1.4, ls=(0, (2.6, 1.3)))
ax_bi.axhline(0.6, color='#9a9a9a', lw=0.7)
ax_bi.set_xlim(30.8, 32.3)
ax_bi.set_ylim(0, 100)
ax_bi.set_xticks([30.8, 31.3, 31.8, 32.3])
ax_bi.set_xticklabels(['30.8', '31.3', '31.8', '32.3'])
ax_bi.xaxis.set_minor_locator(MultipleLocator(0.25))
frame(ax_bi, lw=0.9, size=6.0, pad=2.5)
ax_bi.tick_params(axis='x', which='major', length=2)
ax_bi.set_xlabel('2-Theta (degree)', fontsize=6.3)
ax_bi.xaxis.set_label_coords(0.5, -0.06)
ax_bi.set_ylabel('Intensity (a.u.)', fontsize=6.2)
ax_bi.yaxis.set_label_coords(-0.035, 0.5)

# ===== (c) =====
ax_c = fig.add_axes([0.0223, 0.390, 0.3664, 0.2998])
be_c, cnt_c = np.array(survey_c).T
ax_c.plot(be_c, cnt_c, color='black', lw=1.0)
ax_c.set_xlim(1300, 0)
ax_c.set_ylim(0, 100)
ax_c.xaxis.set_major_locator(MultipleLocator(200))
ax_c.xaxis.set_minor_locator(MultipleLocator(100))
frame(ax_c, size=9, pad=5)
ax_c.set_xlabel('Binding Energy (eV)', fontsize=11)
ax_c.xaxis.set_label_coords(0.5, -0.083)
ax_c.set_ylabel('Counts (s)', fontsize=11)
ax_c.yaxis.set_label_coords(-0.011, 0.5)
ax_c.text(0.003, 0.995, '(c)', transform=ax_c.transAxes, ha='left', va='top', fontsize=9)
ax_c.text(0.788, 0.933, r'LCSO:0.002Mn$^{4\!+}$', transform=ax_c.transAxes, ha='center', va='center', fontsize=10.5)
for lab, xx, yy in [('La 3d', 0.419, 0.849), ('O 1s', 0.597, 0.834), ('Sn 3d', 0.645, 0.699),
                    ('Mn 2p', 0.518, 0.447), ('Ca 2p', 0.722, 0.366), ('C 1s', 0.786, 0.437)]:
    ax_c.text(xx, yy, lab, transform=ax_c.transAxes, ha='center', va='center', fontsize=10, color='#ff0000')

# ===== (d) =====
ax_d = fig.add_axes([0.5236, 0.3888, 0.3684, 0.301])
be_d, cnt_d = np.array(survey_d).T
ax_d.plot(be_d, cnt_d, color='black', lw=1.0)
ax_d.set_xlim(1350, 0)
ax_d.set_ylim(0, 100)
ax_d.xaxis.set_major_locator(MultipleLocator(200))
ax_d.xaxis.set_minor_locator(MultipleLocator(100))
frame(ax_d, size=9, pad=5)
ax_d.set_xlabel('Binding Energy (eV)', fontsize=11)
ax_d.xaxis.set_label_coords(0.5, -0.083)
ax_d.set_ylabel('Counts (s)', fontsize=11)
ax_d.yaxis.set_label_coords(-0.011, 0.5)
ax_d.text(0.003, 0.995, '(d)', transform=ax_d.transAxes, ha='left', va='top', fontsize=9)
ax_d.text(0.8045, 0.942, r'LMSO:0.002Mn$^{4\!+}$', transform=ax_d.transAxes, ha='center', va='center', fontsize=10.5)
for lab, xx, yy in [('Mg 1s', 0.078, 0.832), ('La 3d', 0.438, 0.834), ('O 1s', 0.602, 0.776),
                    ('Sn 3d', 0.666, 0.699), ('Mn 2p', 0.533, 0.428), ('C 1s', 0.801, 0.449)]:
    ax_d.text(xx, yy, lab, transform=ax_d.transAxes, ha='center', va='center', fontsize=10, color='#ff0000')

# ===== (e) =====
ax_e = fig.add_axes([0.0223, 0.0442, 0.3669, 0.3014])
be_e = np.linspace(660, 635, len(mn2p_e))
ax_e.plot(be_e, mn2p_e, color='#4a4a4a', lw=0.8)
ax_e.plot(bg_e_be, bg_e_y, color='#ff7f0e', lw=1.0)
ax_e.plot(p12_e_be, p12_e_y, color='#0000ff', lw=1.0)
ax_e.plot(p32_e_be, p32_e_y, color='#ff0000', lw=1.0)
ax_e.set_xlim(660, 635)
ax_e.set_ylim(0, 100)
ax_e.xaxis.set_major_locator(MultipleLocator(5))
ax_e.xaxis.set_minor_locator(MultipleLocator(2.5))
frame(ax_e, size=9, pad=5)
ax_e.set_xlabel('Binding Energy (eV)', fontsize=11)
ax_e.xaxis.set_label_coords(0.5, -0.08)
ax_e.set_ylabel('Counts (s)', fontsize=11)
ax_e.yaxis.set_label_coords(-0.011, 0.5)
ax_e.text(0.003, 0.995, '(e)', transform=ax_e.transAxes, ha='left', va='top', fontsize=9)
ax_e.text(0.312, 0.836, r'LCSO:0.002Mn$^{4\!+}$', transform=ax_e.transAxes, ha='center', va='center', fontsize=10.5)
ax_e.text(0.660, 0.920, r'Mn 2p$_{3/2}$ 642.47 eV', transform=ax_e.transAxes, ha='center', va='center',
          fontsize=11.5, color='#ff0000')
ax_e.text(0.205, 0.668, r'Mn 2p$_{1/2}$ 654.14 eV', transform=ax_e.transAxes, ha='center', va='center',
          fontsize=11.5, color='#0000ff')
ax_e.annotate('', xy=(0.688, 0.732), xytext=(0.631, 0.869), xycoords='axes fraction',
              arrowprops=dict(arrowstyle='-|>', color='#ff0000', lw=0.9, mutation_scale=8))
ax_e.annotate('', xy=(0.236, 0.482), xytext=(0.179, 0.616), xycoords='axes fraction',
              arrowprops=dict(arrowstyle='-|>', color='#0000ff', lw=0.9, mutation_scale=8))

# ===== (f) =====
ax_f = fig.add_axes([0.5238, 0.0439, 0.3688, 0.3017])
be_f = np.linspace(657, 630, len(mn2p_f))
ax_f.plot(be_f, mn2p_f, color='#4a4a4a', lw=0.8)
ax_f.plot(bg_f_be, bg_f_y, color='#ff7f0e', lw=1.0)
ax_f.plot(p12_f_be, p12_f_y, color='#0000ff', lw=1.0)
ax_f.plot(p32_f_be, p32_f_y, color='#ff0000', lw=1.0)
ax_f.set_xlim(657, 630)
ax_f.set_ylim(0, 100)
ax_f.xaxis.set_major_locator(MultipleLocator(5))
ax_f.xaxis.set_minor_locator(MultipleLocator(2.5))
frame(ax_f, size=9, pad=5)
ax_f.set_xlabel('Binding Energy (eV)', fontsize=11)
ax_f.xaxis.set_label_coords(0.5, -0.08)
ax_f.set_ylabel('Counts (s)', fontsize=11)
ax_f.yaxis.set_label_coords(-0.011, 0.5)
ax_f.text(0.003, 0.995, '(f)', transform=ax_f.transAxes, ha='left', va='top', fontsize=9)
ax_f.text(0.3045, 0.816, r'LMSO:0.002Mn$^{4\!+}$', transform=ax_f.transAxes, ha='center', va='center', fontsize=10.5)
ax_f.text(0.588, 0.933, r'Mn 2p$_{3/2}$ 642.38 eV', transform=ax_f.transAxes, ha='center', va='center',
          fontsize=11.5, color='#ff0000')
ax_f.text(0.2007, 0.642, r'Mn 2p$_{1/2}$ 654.21 eV', transform=ax_f.transAxes, ha='center', va='center',
          fontsize=11.5, color='#0000ff')
ax_f.annotate('', xy=(0.5488, 0.756), xytext=(0.5696, 0.883), xycoords='axes fraction',
              arrowprops=dict(arrowstyle='-|>', color='#ff0000', lw=0.9, mutation_scale=8))
ax_f.annotate('', xy=(0.1509, 0.447), xytext=(0.1716, 0.5956), xycoords='axes fraction',
              arrowprops=dict(arrowstyle='-|>', color='#0000ff', lw=0.9, mutation_scale=8))

fig.savefig('out.png', dpi=300)
